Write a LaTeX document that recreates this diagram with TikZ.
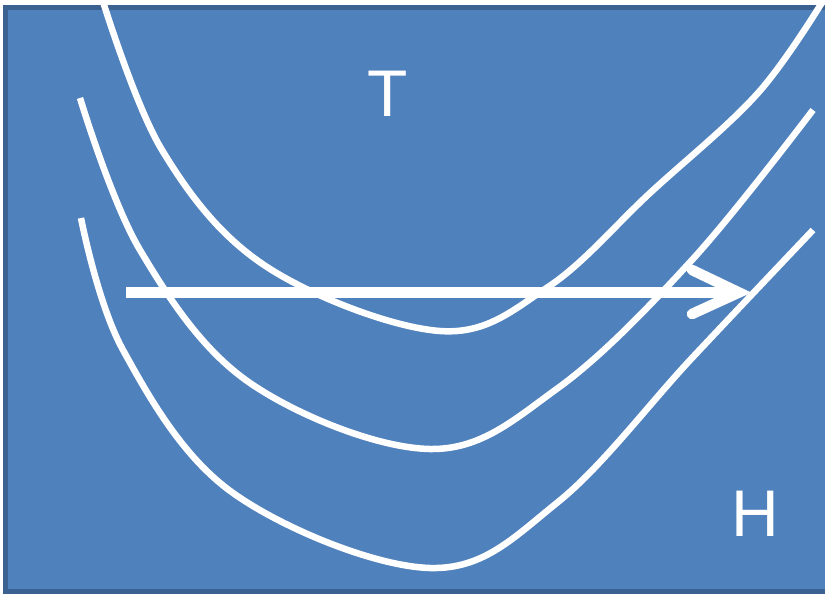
\documentclass[tikz,border=0pt]{standalone}
\usepackage{fontspec}
\setmainfont{Liberation Sans}
\definecolor{boxfill}{HTML}{4F81BD}
\definecolor{boxedge}{HTML}{3A6190}
\begin{document}
\begin{tikzpicture}[x=1pt,y=-1pt,
  curve/.style={white,line width=6.5pt,line cap=butt},
  lbl/.style={text=white,font=\fontsize{66}{66}\selectfont,inner sep=0pt}]
\useasboundingbox (0,0) rectangle (825,595);
\clip (0,0) rectangle (825,595);
\fill[white] (0,0) rectangle (825,595);
\draw[boxedge,fill=boxfill,line width=5pt] (5.5,7.5) rectangle (835,591);
% curve 1 (top)
\draw[curve] plot[smooth,tension=0.6] coordinates {(100,-8) (162,150) (267,267) (440,331) (548,287) (650,193) (758,93) (826,-4)};
% curve 2 (middle)
\draw[curve] plot[smooth,tension=0.6] coordinates {(80,98) (140,250) (250,383) (430,449) (558,388) (692,260) (813,110)};
% curve 3 (bottom)
\draw[curve] plot[smooth,tension=0.6] coordinates {(81,218) (123,350) (233,493) (430,568) (558,502) (692,358) (813,230)};
% arrow
\coordinate (a) at (126,292.5);
\coordinate (b) at (739,292.5);
\coordinate (b1) at (692,270);
\coordinate (b2) at (692,314);
\draw[white,line width=11pt] (a) -- ([xshift=-10pt]b);
\draw[white,line width=10.5pt,line cap=round,line join=miter] (b1) -- (b) -- (b2);
\fill[white] (b1) -- (b) -- (b2) -- ([xshift=-14pt]b) -- cycle;
\node[lbl] (T) at (388,94) {T};
\node[lbl] (H) at (755,514) {H};
\end{tikzpicture}
\end{document}
